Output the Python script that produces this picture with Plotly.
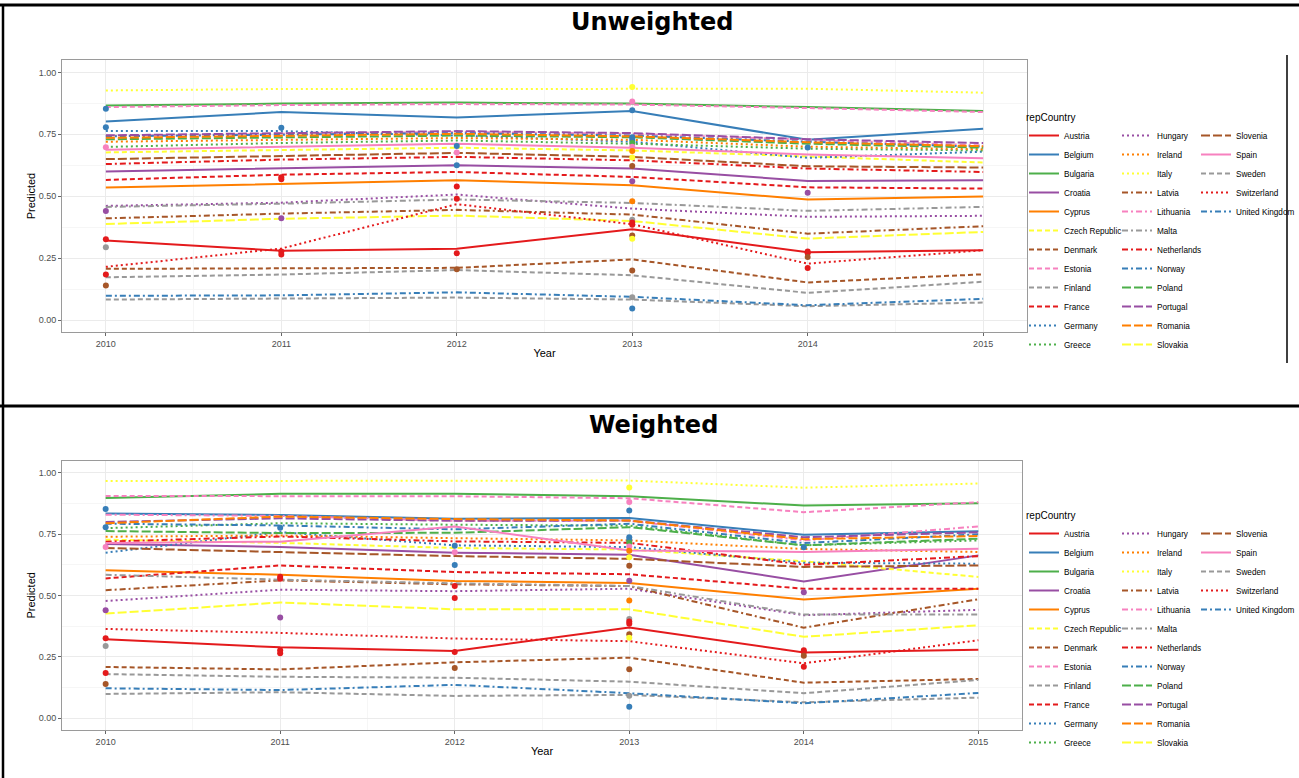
import plotly.graph_objects as go

# ---------------- data ----------------
years = [2010, 2011, 2012, 2013, 2014, 2015]
countries = ["Austria", "Belgium", "Bulgaria", "Croatia", "Cyprus", "Czech Republic",
             "Denmark", "Estonia", "Finland", "France", "Germany", "Greece",
             "Hungary", "Ireland", "Italy", "Latvia", "Lithuania", "Malta",
             "Netherlands", "Norway", "Poland", "Portugal", "Romania", "Slovakia",
             "Slovenia", "Spain", "Sweden", "Switzerland", "United Kingdom"]

# Unweighted model predictions (2010..2015)
u_austria = [0.321, 0.280, 0.288, 0.367, 0.274, 0.282]
u_belgium = [0.802, 0.840, 0.818, 0.844, 0.728, 0.772]
u_bulgaria = [0.866, 0.874, 0.878, 0.874, 0.860, 0.844]
u_croatia = [0.600, 0.614, 0.625, 0.612, 0.562, 0.565]
u_cyprus = [0.535, 0.551, 0.565, 0.544, 0.487, 0.499]
u_czech = [0.677, 0.688, 0.696, 0.685, 0.659, 0.636]
u_denmark = [0.207, 0.208, 0.211, 0.245, 0.152, 0.185]
u_estonia = [0.860, 0.868, 0.872, 0.870, 0.856, 0.840]
u_finland = [0.173, 0.184, 0.202, 0.181, 0.110, 0.155]
u_france = [0.566, 0.587, 0.598, 0.578, 0.536, 0.531]
u_germany = [0.763, 0.763, 0.745, 0.720, 0.655, 0.680]
u_greece = [0.699, 0.715, 0.725, 0.712, 0.692, 0.685]
u_hungary = [0.461, 0.474, 0.507, 0.450, 0.417, 0.421]
u_ireland = [0.720, 0.728, 0.735, 0.728, 0.700, 0.690]
u_italy = [0.927, 0.933, 0.933, 0.933, 0.934, 0.918]
u_latvia = [0.411, 0.430, 0.445, 0.426, 0.349, 0.379]
u_lithuania = [0.744, 0.752, 0.760, 0.752, 0.728, 0.705]
u_malta = [0.457, 0.470, 0.487, 0.473, 0.441, 0.457]
u_netherlands = [0.630, 0.648, 0.659, 0.645, 0.612, 0.598]
u_norway = [0.742, 0.748, 0.755, 0.745, 0.720, 0.700]
u_poland = [0.730, 0.738, 0.745, 0.738, 0.712, 0.696]
u_portugal = [0.746, 0.755, 0.763, 0.755, 0.730, 0.715]
u_romania = [0.736, 0.744, 0.752, 0.742, 0.718, 0.702]
u_slovakia = [0.388, 0.409, 0.422, 0.400, 0.329, 0.356]
u_slovenia = [0.650, 0.664, 0.675, 0.659, 0.621, 0.616]
u_spain = [0.688, 0.700, 0.712, 0.696, 0.669, 0.653]
u_sweden = [0.083, 0.087, 0.091, 0.083, 0.056, 0.071]
u_switzerland = [0.215, 0.289, 0.468, 0.387, 0.228, 0.282]
u_uk = [0.098, 0.100, 0.112, 0.094, 0.060, 0.086]

# Weighted model predictions (2010..2015)
w_austria = [0.322, 0.289, 0.274, 0.370, 0.268, 0.279]
w_belgium = [0.835, 0.829, 0.813, 0.816, 0.748, 0.762]
w_bulgaria = [0.898, 0.915, 0.915, 0.905, 0.867, 0.877]
w_croatia = [0.710, 0.698, 0.675, 0.667, 0.558, 0.664]
w_cyprus = [0.603, 0.585, 0.560, 0.551, 0.484, 0.528]
w_czech = [0.728, 0.715, 0.694, 0.688, 0.640, 0.576]
w_denmark = [0.209, 0.199, 0.228, 0.247, 0.145, 0.160]
w_estonia = [0.906, 0.905, 0.905, 0.897, 0.840, 0.881]
w_finland = [0.180, 0.169, 0.165, 0.149, 0.102, 0.156]
w_france = [0.570, 0.623, 0.596, 0.587, 0.528, 0.528]
w_germany = [0.675, 0.759, 0.705, 0.698, 0.634, 0.630]
w_greece = [0.775, 0.795, 0.789, 0.785, 0.705, 0.725]
w_hungary = [0.478, 0.524, 0.518, 0.528, 0.420, 0.442]
w_ireland = [0.740, 0.745, 0.734, 0.725, 0.690, 0.678]
w_italy = [0.967, 0.967, 0.966, 0.969, 0.940, 0.957]
w_latvia = [0.522, 0.562, 0.546, 0.539, 0.369, 0.485]
w_lithuania = [0.830, 0.825, 0.805, 0.805, 0.725, 0.782]
w_malta = [0.585, 0.565, 0.550, 0.539, 0.423, 0.423]
w_netherlands = [0.720, 0.741, 0.721, 0.715, 0.626, 0.661]
w_norway = [0.793, 0.786, 0.770, 0.793, 0.714, 0.750]
w_poland = [0.763, 0.755, 0.756, 0.779, 0.705, 0.732]
w_portugal = [0.800, 0.815, 0.805, 0.806, 0.738, 0.758]
w_romania = [0.795, 0.822, 0.812, 0.806, 0.730, 0.743]
w_slovakia = [0.427, 0.472, 0.444, 0.444, 0.332, 0.379]
w_slovenia = [0.694, 0.678, 0.661, 0.650, 0.617, 0.623]
w_spain = [0.714, 0.720, 0.782, 0.684, 0.678, 0.691]
w_sweden = [0.099, 0.106, 0.091, 0.095, 0.065, 0.084]
w_switzerland = [0.364, 0.348, 0.325, 0.314, 0.224, 0.318]
w_uk = [0.122, 0.115, 0.136, 0.102, 0.061, 0.103]

# Observed points (same in both panels)
obs_year = [2010, 2010, 2010, 2010, 2010, 2010, 2010, 2010,
            2011, 2011, 2011, 2011, 2011, 2011,
            2012, 2012, 2012, 2012, 2012, 2012, 2012,
            2013, 2013, 2013, 2013, 2013, 2013, 2013, 2013, 2013, 2013,
            2013, 2013, 2013, 2013, 2013, 2013, 2013, 2013, 2013, 2013,
            2014, 2014, 2014, 2014, 2014, 2014]
obs_value = [0.853, 0.779, 0.698, 0.440, 0.326, 0.294, 0.184, 0.140,
             0.777, 0.577, 0.569, 0.411, 0.277, 0.265,
             0.703, 0.677, 0.625, 0.539, 0.490, 0.270, 0.205,
             0.941, 0.882, 0.847, 0.738, 0.727, 0.715, 0.700, 0.683, 0.656, 0.622,
             0.561, 0.480, 0.405, 0.394, 0.385, 0.342, 0.328, 0.200, 0.092, 0.047,
             0.697, 0.514, 0.277, 0.270, 0.255, 0.210]
obs_country = ["Belgium", "Germany", "Spain", "Croatia", "Austria", "Finland", "France", "Denmark",
               "Norway", "Netherlands", "France", "Portugal", "Austria", "Switzerland",
               "Belgium", "Spain", "United Kingdom", "France", "Netherlands", "Austria", "Denmark",
               "Italy", "Estonia", "Belgium", "Norway", "United Kingdom", "Poland", "Spain",
               "Romania", "Slovakia", "Slovenia",
               "Croatia", "Cyprus", "Malta", "France", "Austria", "Latvia", "Czech Republic",
               "Denmark", "Sweden", "United Kingdom",
               "Belgium", "Portugal", "Austria", "Netherlands", "Denmark", "Switzerland"]

unweighted = [u_austria, u_belgium, u_bulgaria, u_croatia, u_cyprus, u_czech, u_denmark,
              u_estonia, u_finland, u_france, u_germany, u_greece, u_hungary, u_ireland,
              u_italy, u_latvia, u_lithuania, u_malta, u_netherlands, u_norway, u_poland,
              u_portugal, u_romania, u_slovakia, u_slovenia, u_spain, u_sweden,
              u_switzerland, u_uk]
weighted = [w_austria, w_belgium, w_bulgaria, w_croatia, w_cyprus, w_czech, w_denmark,
            w_estonia, w_finland, w_france, w_germany, w_greece, w_hungary, w_ireland,
            w_italy, w_latvia, w_lithuania, w_malta, w_netherlands, w_norway, w_poland,
            w_portugal, w_romania, w_slovakia, w_slovenia, w_spain, w_sweden,
            w_switzerland, w_uk]

# ---------------- styles ----------------
set1 = ["#E41A1C", "#377EB8", "#4DAF4A", "#984EA3", "#FF7F00",
        "#FFFF33", "#A65628", "#F781BF", "#999999"]
color_of = {c: set1[i % 9] for i, c in enumerate(countries)}
SOLID, DASHED, DOTTED, DOTDASH, LONGDASH = "solid", "5px,3px", "2px,3px", "6px,3px,2px,3px", "9px,3px"
dash_groups = [SOLID] * 5 + [DASHED] * 5 + [DOTTED] * 5 + [DOTDASH] * 5 + [LONGDASH] * 5 + \
              [SOLID, DASHED, DOTTED, DOTDASH]
dash_of = {c: dash_groups[i] for i, c in enumerate(countries)}

W, H = 1299, 778
def px_x(p):
    return p / W
def px_y(p):
    return 1 - p / H

fig = go.Figure()

panels = [
    ("x", "y", unweighted, ["legend", "legend2", "legend3"]),
    ("x2", "y2", weighted, ["legend4", "legend5", "legend6"]),
]

for xa, ya, series, legs in panels:
    for i, c in enumerate(countries):
        leg = legs[0] if i < 12 else (legs[1] if i < 24 else legs[2])
        fig.add_trace(go.Scatter(
            x=years, y=series[i], mode="lines", name=c,
            line=dict(color=color_of[c], width=2, dash=dash_of[c]),
            xaxis=xa, yaxis=ya, legend=leg, showlegend=True,
        ))
    fig.add_trace(go.Scatter(
        x=obs_year, y=obs_value, mode="markers",
        marker=dict(color=[color_of[c] for c in obs_country], size=6, line=dict(width=0)),
        xaxis=xa, yaxis=ya, showlegend=False, hoverinfo="skip",
    ))

axis_common = dict(
    showline=True, mirror=True, linecolor="#9A9A9A", linewidth=1,
    showgrid=True, gridcolor="#EBEBEB", gridwidth=1,
    ticks="outside", ticklen=3, tickwidth=1, tickcolor="#666666",
    tickfont=dict(family="Liberation Sans, Arial, sans-serif", size=9, color="#4D4D4D"),
    zeroline=False,
)
xcommon = dict(axis_common, range=[2009.75, 2015.25], tickvals=years,
               ticktext=[str(y) for y in years],
               minor=dict(dtick=0.5, tick0=2009.5, showgrid=True, gridcolor="#F6F6F6", ticks=""),
               title=dict(text="Year", standoff=1,
                          font=dict(family="Liberation Sans, Arial, sans-serif", size=11, color="#000")))
ycommon = dict(axis_common, range=[-0.048, 1.05], tickvals=[0, 0.25, 0.5, 0.75, 1.0],
               tickformat=".2f",
               minor=dict(dtick=0.125, tick0=0.125, showgrid=True, gridcolor="#F6F6F6", ticks=""),
               title=dict(text="Predicted", standoff=0,
                          font=dict(family="Liberation Sans, Arial, sans-serif", size=11, color="#000")))

legfont = dict(family="Liberation Sans, Arial, sans-serif", size=8.2, color="#000")
titfont = dict(family="Liberation Sans, Arial, sans-serif", size=10, color="#000")

def mk_leg(x, y, title):
    return dict(x=x, y=y, xanchor="left", yanchor="top", font=legfont,
                title=dict(text=title, font=titfont, side="top"),
                bgcolor="rgba(0,0,0,0)", borderwidth=0, itemwidth=30,
                tracegroupgap=0, orientation="v")

col_x = [1024, 1117, 1196]
top_leg_y = 108
bot_leg_y = 506

fig.update_layout(
    width=W, height=H,
    margin=dict(l=0, r=0, t=0, b=0, autoexpand=False),
    paper_bgcolor="white", plot_bgcolor="white",
    font=dict(family="Liberation Sans, Arial, sans-serif"),
    xaxis=dict(xcommon, domain=[px_x(62), px_x(1027)], anchor="y"),
    yaxis=dict(ycommon, domain=[px_y(332), px_y(60)], anchor="x"),
    xaxis2=dict(xcommon, domain=[px_x(62), px_x(1022)], anchor="y2"),
    yaxis2=dict(ycommon, domain=[px_y(730), px_y(460.7)], anchor="x2"),
    legend=mk_leg(px_x(col_x[0]), px_y(top_leg_y), "repCountry"),
    legend2=mk_leg(px_x(col_x[1]), px_y(top_leg_y), " "),
    legend3=mk_leg(px_x(col_x[2]), px_y(top_leg_y), " "),
    legend4=mk_leg(px_x(col_x[0]), px_y(bot_leg_y), "repCountry"),
    legend5=mk_leg(px_x(col_x[1]), px_y(bot_leg_y), " "),
    legend6=mk_leg(px_x(col_x[2]), px_y(bot_leg_y), " "),
    showlegend=True,
)

title_font = dict(family="DejaVu Sans, Verdana, sans-serif", size=24, color="#000", weight="bold")
fig.add_annotation(text="Unweighted", x=px_x(652), y=px_y(22), xref="paper", yref="paper",
                   showarrow=False, font=title_font, xanchor="center", yanchor="middle")
fig.add_annotation(text="Weighted", x=px_x(653), y=px_y(425), xref="paper", yref="paper",
                   showarrow=False, font=title_font, xanchor="center", yanchor="middle")

# frame lines of the composite picture
frame = [
    dict(x0=px_x(0), x1=px_x(W), y0=px_y(5), y1=px_y(5), w=3),
    dict(x0=px_x(3), x1=px_x(3), y0=px_y(4), y1=px_y(H), w=2.5),
    dict(x0=px_x(0), x1=px_x(W), y0=px_y(406), y1=px_y(406), w=3),
    dict(x0=px_x(1287), x1=px_x(1287), y0=px_y(55), y1=px_y(363), w=1.5),
]
for f in frame:
    fig.add_shape(type="line", xref="paper", yref="paper", x0=f["x0"], x1=f["x1"],
                  y0=f["y0"], y1=f["y1"], line=dict(color="#000", width=f["w"]))

fig.write_html("out.html")
